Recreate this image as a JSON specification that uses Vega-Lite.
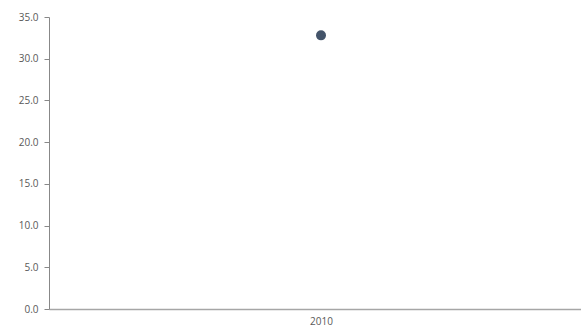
{
  "$schema": "https://vega.github.io/schema/vega-lite/v6.json",
  "autosize": {"type": "none"},
  "padding": {"left": 49, "top": 17, "right": 0, "bottom": 23},
  "width": 544,
  "height": 292,
  "background": "white",
  "config": {"view": {"stroke": null}},
  "data": {"values": [{"year": "2010", "value": 32.8}]},
  "mark": {"type": "point", "filled": true, "opacity": 1, "size": 100, "color": "#44546a"},
  "encoding": {
    "x": {
      "field": "year", "type": "nominal",
      "scale": {"paddingInner": 0, "paddingOuter": 0},
      "axis": {"title": null, "labelAngle": 0, "ticks": false, "domainColor": "#a6a6a6", "domainWidth": 1.5,
               "labelFont": "Open Sans", "labelFontSize": 10, "labelColor": "#595959", "labelPadding": 7}
    },
    "y": {
      "field": "value", "type": "quantitative",
      "scale": {"domain": [0, 35], "nice": false},
      "axis": {"title": null, "values": [0, 5, 10, 15, 20, 25, 30, 35], "format": ".1f", "grid": false,
               "domainColor": "#888888", "tickColor": "#888888", "tickSize": 5,
               "labelFont": "Open Sans", "labelFontSize": 10, "labelColor": "#595959", "labelPadding": 6}
    }
  }
}
